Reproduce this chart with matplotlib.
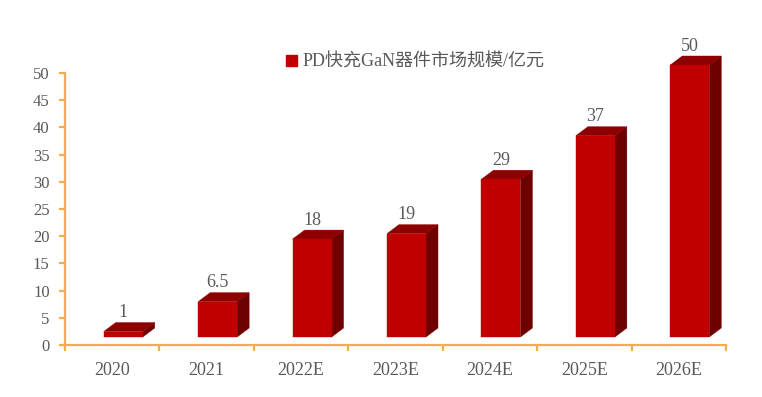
import matplotlib.pyplot as plt
from matplotlib.patches import Polygon, Patch

years = ["2020", "2021", "2022E", "2023E", "2024E", "2025E", "2026E"]
market_size = [1, 6.5, 18, 19, 29, 37, 50]
value_labels = ["1", "6.5", "18", "19", "29", "37", "50"]
legend_label = "PD快充GaN器件市场规模/亿元"

FRONT = "#C00000"
TOP = "#8E0000"
SIDE = "#6E0000"
AXIS = "#F0AE4E"
TEXT = "#595959"

SERIF = ["Liberation Serif", "Noto Sans CJK SC", "DejaVu Sans"]
plt.rcParams["font.family"] = SERIF

fig = plt.figure(figsize=(7.62, 3.97), dpi=100)
ax = fig.add_axes([65 / 762, 1 - 345 / 397, 661 / 762, 272 / 397])

n = len(years)
ax.set_xlim(-0.5, n - 0.5)
ax.set_ylim(0, 50)

# pixel sizes of one unit on each axis
px_x = 661 / n
px_y = 272 / 50

# 3d look: front face shift and depth, in pixels -> data units
half_w = 19.5 / px_x
shift_x, shift_y = 11 / px_x, 8 / px_y
depth_x, depth_y = 12 / px_x, 9 / px_y

for i, v in enumerate(market_size):
    x0 = i - half_w + shift_x
    x1 = i + half_w + shift_x
    y0 = shift_y
    y1 = v + shift_y
    side = [(x1, y0), (x1 + depth_x, y0 + depth_y),
            (x1 + depth_x, y1 + depth_y), (x1, y1)]
    top = [(x0, y1), (x1, y1), (x1 + depth_x, y1 + depth_y),
           (x0 + depth_x, y1 + depth_y)]
    front = [(x0, y0), (x1, y0), (x1, y1), (x0, y1)]
    for pts, col in [(side, SIDE), (top, TOP), (front, FRONT)]:
        ax.add_patch(Polygon(pts, closed=True, facecolor=col,
                             edgecolor=col, linewidth=0.3, clip_on=False))
    ax.annotate(value_labels[i], (i + shift_x, y1 + depth_y),
                xytext=(0, 1), textcoords="offset points",
                ha="center", va="bottom", fontsize=13, color=TEXT,
                annotation_clip=False)

# axes styling
for s in ["top", "right"]:
    ax.spines[s].set_visible(False)
for s in ["left", "bottom"]:
    ax.spines[s].set_color(AXIS)
    ax.spines[s].set_linewidth(1.6)

ax.set_yticks(range(0, 51, 5))
ax.tick_params(axis="y", colors=AXIS, width=1.6, length=4, pad=7,
               labelcolor=TEXT, labelsize=12)
ax.set_xticks(range(n))
ax.set_xticklabels(years)
ax.set_xticks([k - 0.5 for k in range(n + 1)], minor=True)
ax.tick_params(axis="x", which="major", length=0, pad=12,
               labelcolor=TEXT, labelsize=13)
ax.tick_params(axis="x", which="minor", colors=AXIS, width=1.6, length=4)

handle = Patch(facecolor=FRONT, edgecolor=FRONT)
leg = ax.legend([handle], [legend_label], loc="center",
                bbox_to_anchor=(0.53, 1.04), frameon=False,
                handlelength=0.6, handleheight=0.6, handletextpad=0.3,
                prop={"family": SERIF, "size": 13})
for t in leg.get_texts():
    t.set_color(TEXT)

fig.savefig("out.png", dpi=100)
